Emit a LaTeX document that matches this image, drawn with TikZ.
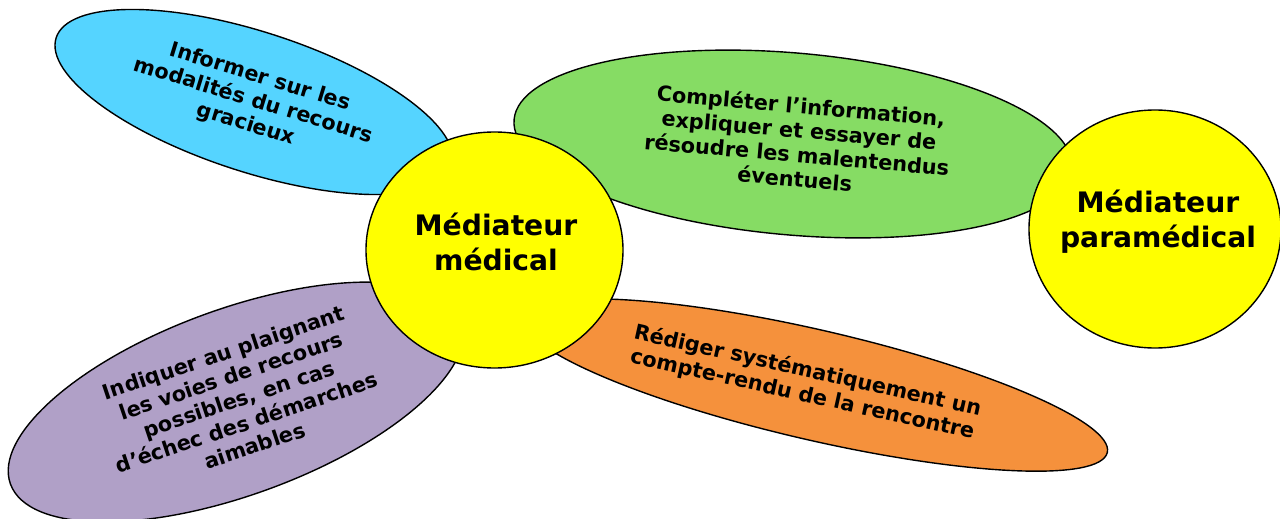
\documentclass[tikz,border=0pt]{standalone}
\usepackage{fontspec}
\setmainfont{DejaVu Sans}
\usetikzlibrary{shapes.geometric}
\definecolor{cblue}{RGB}{85,212,255}
\definecolor{cgreen}{RGB}{134,220,100}
\definecolor{cpurple}{RGB}{176,160,199}
\definecolor{corange}{RGB}{245,145,60}
\definecolor{cyellow}{RGB}{255,255,0}
\tikzset{
  bubble/.style={ellipse, draw=black, line width=1.4pt, inner sep=0pt},
  hub/.style={ellipse, draw=black, line width=1.4pt, fill=cyellow, inner sep=0pt},
  smalltxt/.style={align=center, inner sep=0pt, font=\bfseries\fontsize{20.8}{24.5}\selectfont},
  bigtxt/.style={align=center, inner sep=0pt, font=\bfseries\fontsize{28.2}{35}\selectfont}
}
\begin{document}
\begin{tikzpicture}[x=1pt,y=-1pt]
\useasboundingbox (0,0) rectangle (1280,519);
% petals
\node[bubble, fill=cblue, minimum width=416pt, minimum height=140pt, rotate=-18] (blue) at (254,102) {};
\node[bubble, fill=cgreen, minimum width=560pt, minimum height=182pt, rotate=-5] (green) at (793,144) {};
\node[bubble, fill=cpurple, minimum width=480pt, minimum height=186pt, rotate=20] (purple) at (236,402) {};
\node[bubble, fill=corange, minimum width=600pt, minimum height=110pt, rotate=-13] (orange) at (815,385) {};
% texts of petals
\node[smalltxt, rotate=-17] (tblue) at (253,101) {Informer sur les\\modalités du recours\\gracieux};
\node[smalltxt, rotate=-5] (tgreen) at (798,142) {Compléter l’information,\\expliquer et essayer de\\résoudre les malentendus\\éventuels};
\node[smalltxt, rotate=18.5] (tpurple) at (239,399) {Indiquer au plaignant\\les voies de recours\\possibles, en cas\\d’échec des démarches\\aimables};
\node[smalltxt, rotate=-12.5] (torange) at (805,383) {Rédiger systématiquement un\\compte-rendu de la rencontre};
% hubs
\node[hub, minimum width=257pt, minimum height=236pt] (med) at (494.5,250) {};
\node[bigtxt] (tmed) at (496,242) {Médiateur\\médical};
\node[hub, minimum width=252pt, minimum height=238pt] (para) at (1155,229) {};
\node[bigtxt] (tpara) at (1158,222) {Médiateur\\paramédical};
\end{tikzpicture}
\end{document}
